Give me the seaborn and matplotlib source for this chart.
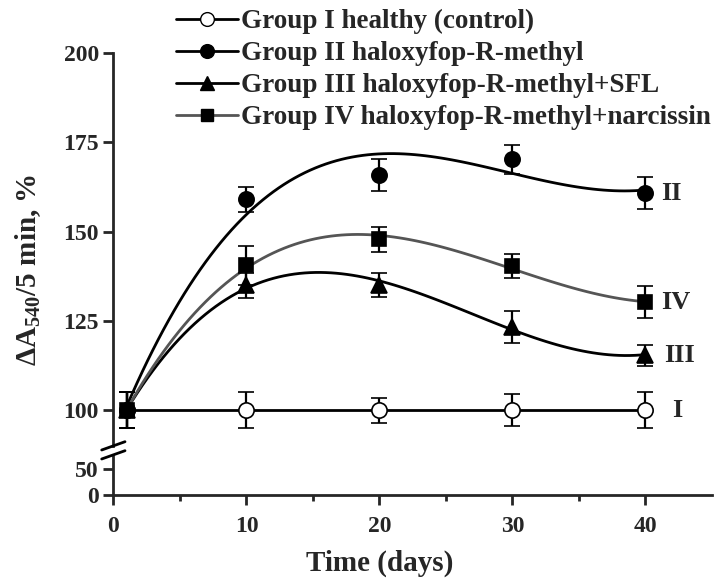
import seaborn as sns
import matplotlib.pyplot as plt
import numpy as np
from matplotlib.lines import Line2D

days = [1, 10, 20, 30, 40]

g1 = [100, 100, 100, 100, 100]
g1_err = [5, 5, 3.5, 4.5, 5]
g2 = [100, 159, 165.8, 170.2, 160.7]
g2_err = [5, 3.5, 4.5, 4, 4.5]
g3 = [100, 135, 135, 123.3, 115.4]
g3_err = [5, 3.5, 3.3, 4.4, 3]
g4 = [100, 140.6, 147.8, 140.3, 130.2]
g4_err = [5, 5.5, 3.5, 3.3, 4.5]

labels = ["Group I healthy (control)",
          "Group II haloxyfop-R-methyl",
          "Group III haloxyfop-R-methyl+SFL",
          "Group IV haloxyfop-R-methyl+narcissin"]
tags = ["I", "II", "III", "IV"]

sns.set_style("ticks")
plt.rcParams["font.family"] = ["Liberation Serif", "DejaVu Serif"]
plt.rcParams["font.weight"] = "bold"
plt.rcParams["mathtext.fontset"] = "custom"
plt.rcParams["mathtext.bf"] = "Liberation Serif:bold"
plt.rcParams["mathtext.rm"] = "Liberation Serif:bold"
plt.rcParams["mathtext.default"] = "bf"

fig = plt.figure(figsize=(7.28, 5.81), dpi=100)
ax = fig.add_axes([0.1559, 0.2324, 0.822, 0.6764])
axb = fig.add_axes([0.1559, 0.1480, 0.822, 0.0671], sharex=ax)

series = [(g1, g1_err, "o", "white", "black", 11),
          (g2, g2_err, "o", "black", "black", 11),
          (g3, g3_err, "^", "black", "black", 11),
          (g4, g4_err, "s", "black", "#555555", 10)]

handles = []
for vals, errs, mk, fc, lc, ms in series:
    # smooth trend (cubic fit) through each group
    sns.regplot(x=np.array(days, float), y=np.array(vals, float), order=3,
                ci=None, scatter=False, ax=ax,
                line_kws=dict(color=lc, lw=2.0, zorder=2))
    ax.errorbar(days, vals, yerr=errs, fmt=mk, ms=ms, mfc=fc, mec="black",
                mew=1.2, ecolor="black", elinewidth=1.6, capsize=6,
                capthick=1.6, zorder=3)
    handles.append(Line2D([], [], color=lc, lw=2.0, marker=mk, ms=ms * 0.9,
                          mfc=fc, mec="black"))

last = [g1[-1], g2[-1], g3[-1], g4[-1]]
tag_x = [42.0, 41.2, 41.4, 41.2]
for t, tx, y in zip(tags, tag_x, last):
    ax.text(tx, y, t, fontsize=19, fontweight="bold", va="center", ha="left")

ax.set_xlim(0, 45)
ax.set_ylim(90, 200)
ax.set_yticks([100, 125, 150, 175, 200])
axb.set_ylim(0, 75)
axb.set_yticks([0, 50])
axb.set_xticks([0, 10, 20, 30, 40])
axb.set_xticks([5, 15, 25, 35], minor=True)

for a in (ax, axb):
    for s in ("top", "right"):
        a.spines[s].set_visible(False)
    a.spines["left"].set_linewidth(2)
    a.spines["bottom"].set_linewidth(2)
    a.tick_params(axis="both", which="major", length=7, width=2,
                  labelsize=17, direction="out")
    a.tick_params(axis="both", which="minor", length=4, width=2)
    a.tick_params(axis="x", pad=8)
    for lab in a.get_yticklabels() + a.get_xticklabels():
        lab.set_fontweight("bold")
ax.spines["bottom"].set_visible(False)
ax.tick_params(axis="x", which="both", bottom=False, labelbottom=False)

ax.set_ylabel(r"ΔA$_{540}$/5 min, %", fontsize=21, fontweight="bold")
ax.yaxis.set_label_coords(43 / 728, 1 - 270 / 581, transform=fig.transFigure)
axb.set_xlabel("Time (days)", fontsize=21, fontweight="bold")
axb.xaxis.set_label_coords(380 / 728, 1 - 550 / 581, transform=fig.transFigure)

# axis break marks
for dy in (0, 9):
    fig.add_artist(Line2D([101.7 / 728, 125 / 728],
                          [1 - (450 + dy) / 581, 1 - (441.7 + dy) / 581],
                          transform=fig.transFigure, color="black", lw=2))

fig.legend(handles, labels, loc="upper left",
           bbox_to_anchor=(176 / 728, 1 - 9 / 581), frameon=False,
           handlelength=2.3, handletextpad=0.1,
           labelspacing=0.26, borderpad=0, borderaxespad=0,
           prop=dict(weight="bold", size=19.5))

fig.savefig("out.png", dpi=100)
